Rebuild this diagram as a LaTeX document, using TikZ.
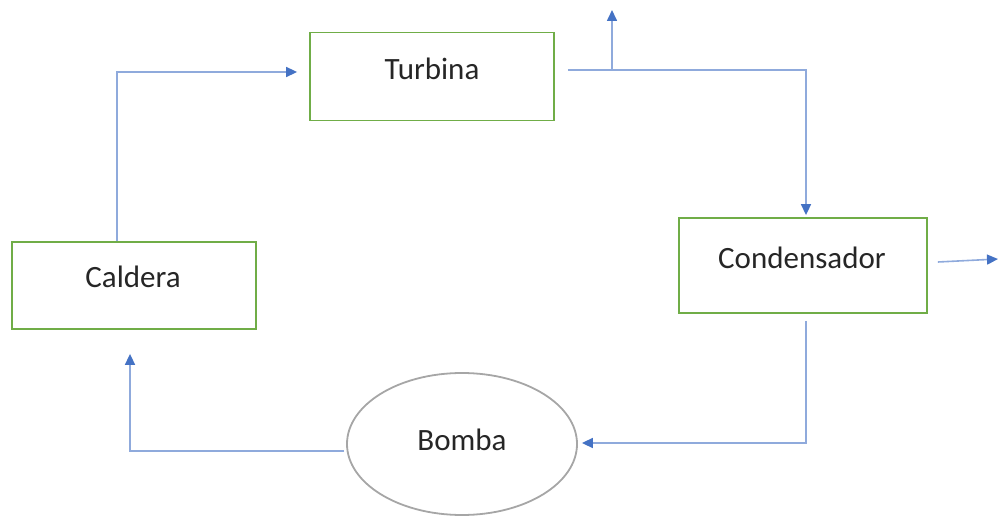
\documentclass[tikz,border=0pt]{standalone}
\usepackage{fontspec}
\setmainfont{Carlito}
\usetikzlibrary{arrows.meta,shapes.geometric,calc}
\definecolor{boxgreen}{HTML}{70AD47}
\definecolor{linkblue}{HTML}{8FAADC}
\definecolor{tipblue}{HTML}{4472C4}
\definecolor{ellgray}{HTML}{A6A6A6}
\tikzset{
  box/.style={draw=boxgreen, line width=1.8pt, minimum width=244pt, minimum height=88pt, inner sep=0pt},
  bombashape/.style={ellipse, draw=ellgray, line width=1.8pt, minimum width=230pt, minimum height=142pt, inner sep=0pt},
  lbl/.style={font=\fontsize{31}{36}\selectfont, text=black!85, inner sep=0pt},
  conn/.style={draw=linkblue, line width=1.6pt, -{Triangle[length=11pt,width=10pt,fill=tipblue,color=tipblue]}},
}
\begin{document}
\begin{tikzpicture}[x=1pt,y=-1pt]
\useasboundingbox (0,0) rectangle (998,518);
% boxes
\node[box] (tur) at (432,76.5) {};
\node[lbl] (turl) at (432,69) {Turbina};
\node[box, minimum width=248pt, minimum height=95pt] (cond) at (803,265.5) {};
\node[lbl] (condl) at (802,258) {Condensador};
\node[box, minimum height=87pt] (cal) at (134,285.5) {};
\node[lbl] (call) at (133,277) {Caldera};
\node[bombashape] (bom) at (462,444) {};
\node[lbl] (boml) at (462,440) {Bomba};
% free ends
\coordinate (vapor) at (612,10);
\coordinate (vaporbase) at (612,69);
\coordinate (out) at (998,259);
% connectors
\draw[conn] ($(cal.north)+(-17,0)$) |- ($(tur.west)+(-12,-4.5)$);
\draw[conn] ($(tur.east)+(13,-6.5)$) -| ($(cond.north)+(3,-2)$);
\draw[conn] (vaporbase) -- (vapor);
\draw[conn] ($(cond.east)+(10,-3.5)$) -- (out);
\draw[conn] ($(cond.south)+(3,7)$) |- ($(bom.east)+(4,-1)$);
\draw[conn] ($(bom.west)+(-2,7)$) -| ($(cal.south)+(-4,24)$);
\end{tikzpicture}
\end{document}
